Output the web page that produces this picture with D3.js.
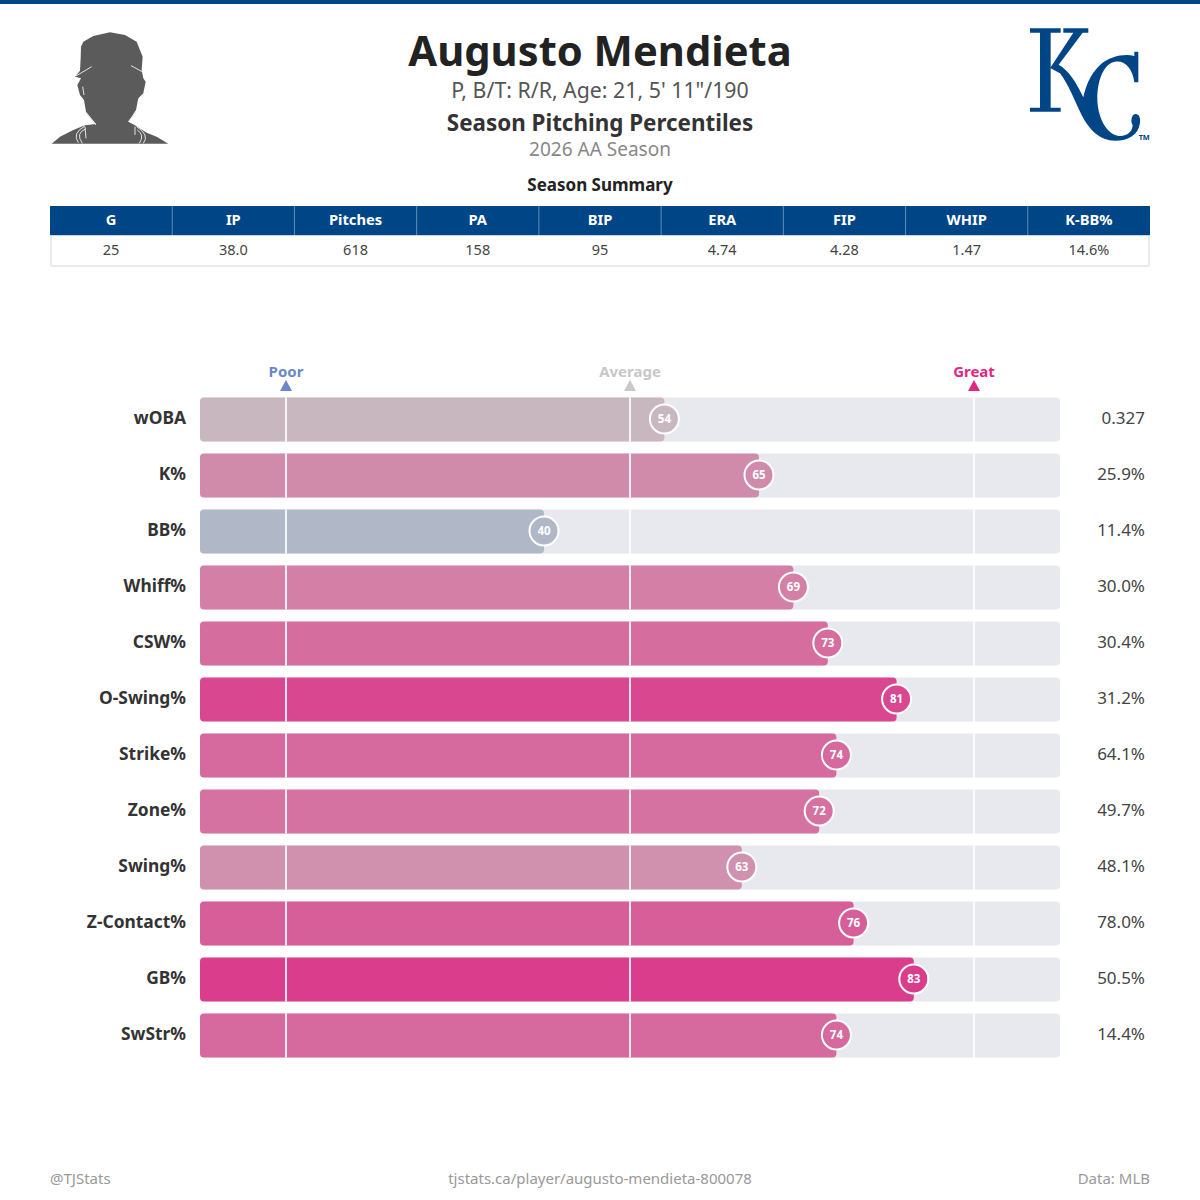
<!DOCTYPE html>
<html>
<head>
<meta charset="utf-8">
<script src="https://cdn.jsdelivr.net/npm/d3@7"></script>
<style>
  html, body { margin: 0; padding: 0; background: #fff; }
  svg { display: block; }
  text { font-family: "Noto Sans", "Open Sans", sans-serif; }
</style>
</head>
<body>
<div id="chart"></div>
<script>
const metrics = ["wOBA", "K%", "BB%", "Whiff%", "CSW%", "O-Swing%", "Strike%", "Zone%", "Swing%", "Z-Contact%", "GB%", "SwStr%"];
const percentiles = [54, 65, 40, 69, 73, 81, 74, 72, 63, 76, 83, 74];
const statValues = ["0.327", "25.9%", "11.4%", "30.0%", "30.4%", "31.2%", "64.1%", "49.7%", "48.1%", "78.0%", "50.5%", "14.4%"];
const summaryHeaders = ["G", "IP", "Pitches", "PA", "BIP", "ERA", "FIP", "WHIP", "K-BB%"];
const summaryValues = ["25", "38.0", "618", "158", "95", "4.74", "4.28", "1.47", "14.6%"];
const markerNames = ["Poor", "Average", "Great"];
const markerPercentiles = [10, 50, 90];
const markerColors = ["#6b87c9", "#c8c8c8", "#e0287f"];
const colorStops = [40, 50, 54, 63, 70, 83];
const colorRange = ["#b0b8c8", "#c4bac4", "#c9b7c0", "#cf91ae", "#d47ca5", "#d93d8b"];

const navy = "#004687";
const svg = d3.select("#chart").append("svg").attr("width", 1200).attr("height", 1200);

svg.append("rect").attr("width", 1200).attr("height", 4).attr("fill", navy);

// Heading block
const heading = [
  ["Augusto Mendieta", 66, 41.7, 700, "#222222"],
  ["P, B/T: R/R, Age: 21, 5' 11\"/190", 98, 21.3, 400, "#555555"],
  ["Season Pitching Percentiles", 131, 22.4, 700, "#333333"],
  ["2026 AA Season", 156, 19, 400, "#888888"],
  ["Season Summary", 191, 17, 700, "#222222"]
];
svg.selectAll("text.heading").data(heading).join("text").attr("class", "heading")
  .attr("x", 600).attr("y", d => d[1]).attr("text-anchor", "middle")
  .attr("font-size", d => d[2]).attr("font-weight", d => d[3]).attr("fill", d => d[4]).text(d => d[0]);

// Player silhouette, with the pale creases of the cap, jaw and collar
const portrait = svg.append("g").attr("transform", "scale(0.3333)");
portrait.append("path").attr("fill", "#5b5b5b")
  .attr("d", "M155 431 L180 410 L220 390 L255 376 L288 372 L258 335 L252 300 L240 285 L232 255 L243 235 L225 230 L240 212 L242 175 L243 140 L250 125 L280 108 L330 97 L375 105 L410 125 L428 170 L425 210 L430 235 L437 245 L430 280 L415 295 L408 330 L385 365 L405 376 L440 398 L470 410 L505 431 Z");
const creases = [
  "M228 228 L275 200", "M393 197 L430 217", "M248 260 L252 285", "M262 345 L288 375", "M410 335 L385 365",
  "M235 428 Q215 400 255 378", "M247 430 Q225 400 258 386", "M255 380 L258 415",
  "M405 380 L405 405", "M430 430 Q450 405 410 380", "M418 430 Q435 405 412 390"
];
portrait.selectAll("path.crease").data(creases).join("path").attr("class", "crease")
  .attr("d", d => d).attr("fill", "none").attr("stroke", "#e4e4e4").attr("stroke-width", 3);

// Team logo
const logo = svg.append("g").attr("transform", "translate(1000,10) scale(0.3333)").attr("fill", navy);
logo.append("path").attr("d", "M90 55 H182 V68 H152 V172 L220 68 H190 V55 H265 V68 H248 L176 164 C205 180 228 215 250 262 C256 235 268 195 300 165 C330 138 375 130 403 138 V125 H415 V217 H403 C398 175 375 150 345 155 C312 160 292 210 292 265 C292 320 320 378 360 378 C385 378 398 362 398 345 C390 335 395 312 407 312 C418 312 422 325 420 338 C416 375 385 392 345 392 C300 392 268 360 245 315 C225 275 205 222 180 190 L152 175 V293 H182 V305 H90 V293 H120 V68 H90 Z");
logo.append("text").attr("x", 416).attr("y", 390).attr("font-size", 22).attr("font-weight", 700).text("TM");

// Summary table
const tableX = d3.scaleBand().domain(summaryHeaders).range([50, 1150]);
svg.append("rect").attr("x", 51).attr("y", 235).attr("width", 1098).attr("height", 31)
  .attr("fill", "#fff").attr("stroke", "#ebebeb").attr("stroke-width", 2);
svg.append("rect").attr("x", 50).attr("y", 206).attr("width", 1100).attr("height", 29).attr("fill", navy);
svg.append("rect").attr("x", 50).attr("y", 235).attr("width", 1100).attr("height", 1).attr("fill", "#c8d4e2");
svg.selectAll("rect.divider").data(summaryHeaders.slice(1)).join("rect").attr("class", "divider")
  .attr("x", d => tableX(d) - 0.5).attr("y", 206).attr("width", 1).attr("height", 29).attr("fill", "#5f8cb6");
svg.selectAll("text.th").data(summaryHeaders).join("text").attr("class", "th")
  .attr("x", d => tableX(d) + tableX.bandwidth() / 2).attr("y", 225).attr("text-anchor", "middle")
  .attr("font-size", 14.7).attr("font-weight", 700).attr("fill", "#fff").text(d => d);
svg.selectAll("text.td").data(summaryValues).join("text").attr("class", "td")
  .attr("x", (d, i) => tableX(summaryHeaders[i]) + tableX.bandwidth() / 2).attr("y", 255).attr("text-anchor", "middle")
  .attr("font-size", 14.5).attr("fill", "#444").text(d => d);

// Percentile bars
const x = d3.scaleLinear().domain([0, 100]).range([200, 1060]);
const y = d3.scaleBand().domain(metrics).range([397.5, 1057.5]).paddingInner(12 / 56).paddingOuter(0);
const color = d3.scaleLinear().domain(colorStops).range(colorRange);
const rows = metrics.map((m, i) => ({ metric: m, pct: percentiles[i], stat: statValues[i] }));

const row = svg.selectAll("g.row").data(rows).join("g").attr("class", "row")
  .attr("transform", d => `translate(0,${y(d.metric)})`);
const barH = y.bandwidth();

row.append("rect").attr("x", x(0)).attr("width", x(100) - x(0)).attr("height", barH).attr("rx", 4).attr("fill", "#e8e9ee");
row.append("rect").attr("x", x(0)).attr("width", d => x(d.pct) - x(0)).attr("height", barH).attr("rx", 4).attr("fill", d => color(d.pct));
row.selectAll("line").data(markerPercentiles).join("line")
  .attr("x1", d => x(d)).attr("x2", d => x(d)).attr("y1", 0).attr("y2", barH)
  .attr("stroke", "#fff").attr("stroke-opacity", 0.85).attr("stroke-width", 2);
row.append("circle").attr("cx", d => x(d.pct)).attr("cy", barH / 2 - 0.5).attr("r", 14.5)
  .attr("fill", d => color(d.pct)).attr("stroke", "#fff").attr("stroke-width", 2);
row.append("text").attr("x", d => x(d.pct)).attr("y", barH / 2 + 3.5).attr("text-anchor", "middle")
  .attr("font-size", 11.5).attr("font-weight", 700).attr("fill", "#fff").text(d => d.pct);
row.append("text").attr("x", 186).attr("y", barH / 2 + 4.5).attr("text-anchor", "end")
  .attr("font-size", 17.4).attr("font-weight", 700).attr("fill", "#333").text(d => d.metric);
row.append("text").attr("x", 1145).attr("y", barH / 2 + 4.5).attr("text-anchor", "end")
  .attr("font-size", 17).attr("fill", "#444").text(d => d.stat);

// Poor / Average / Great markers
const marker = svg.selectAll("g.marker").data(markerNames).join("g").attr("class", "marker")
  .attr("transform", (d, i) => `translate(${x(markerPercentiles[i])},0)`);
marker.append("text").attr("y", 377).attr("text-anchor", "middle").attr("font-size", 15).attr("font-weight", 700)
  .attr("fill", (d, i) => markerColors[i]).text(d => d);
marker.append("path").attr("d", "M-6 391 L0 380 L6 391 Z").attr("fill", (d, i) => markerColors[i]);

// Footer
const footer = [["@TJStats", 50, "start"], ["tjstats.ca/player/augusto-mendieta-800078", 600, "middle"], ["Data: MLB", 1150, "end"]];
svg.selectAll("text.foot").data(footer).join("text").attr("class", "foot")
  .attr("x", d => d[1]).attr("y", 1184).attr("text-anchor", d => d[2])
  .attr("font-size", 15).attr("fill", "#999").text(d => d[0]);
</script>
</body>
</html>
